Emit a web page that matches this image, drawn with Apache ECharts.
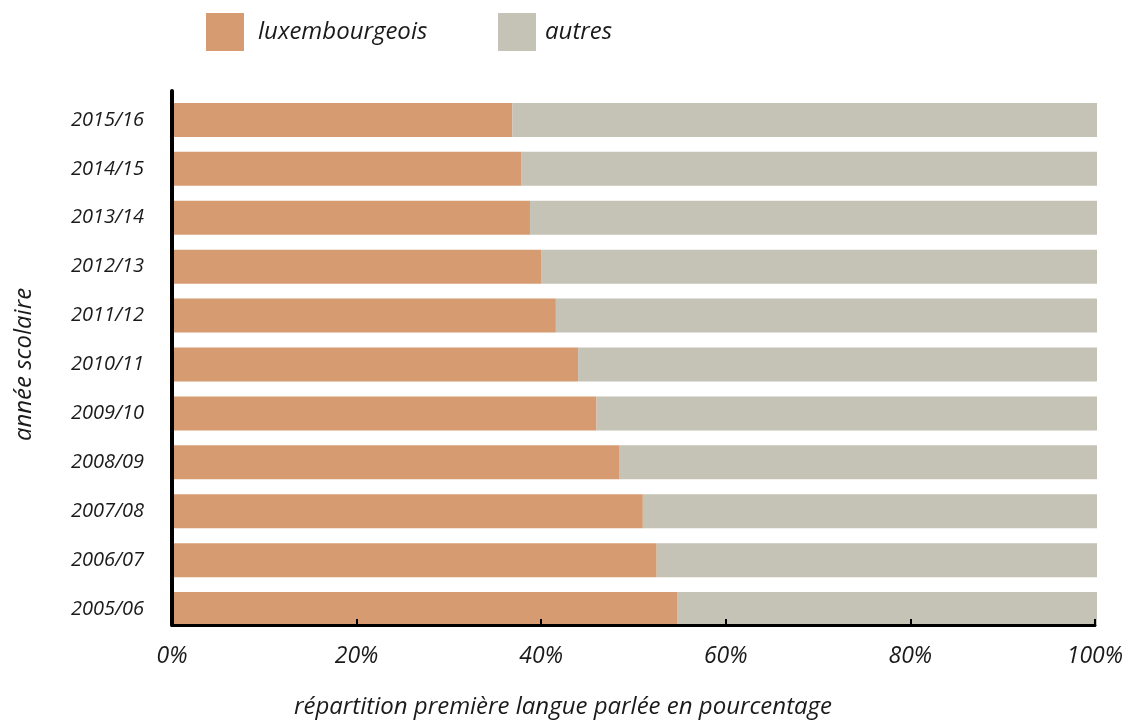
<!DOCTYPE html>
<html>
<head>
<meta charset="utf-8">
<script src="https://cdn.jsdelivr.net/npm/echarts@6/dist/echarts.min.js"></script>
<style>
  html, body { margin: 0; padding: 0; background: #fff; }
  #main { width: 1126px; height: 722px; }
</style>
</head>
<body>
<div id="main"></div>
<script>
// années scolaires, de bas en haut
var annees = ['2005/06', '2006/07', '2007/08', '2008/09', '2009/10', '2010/11',
  '2011/12', '2012/13', '2013/14', '2014/15', '2015/16']
// part en %
var luxembourgeois = [54.6, 52.4, 50.9, 48.4, 45.9, 43.9, 41.5, 39.9, 38.7, 37.8, 36.8]
var autres = [45.4, 47.6, 49.1, 51.6, 54.1, 56.1, 58.5, 60.1, 61.3, 62.2, 63.2]
var ticksX = [0, 20, 40, 60, 80, 100]

var police = '"Open Sans", "DejaVu Sans", sans-serif'
var orange = '#d69b70'
var gris = '#c5c2b6'
var encre = '#1a1a1a'

var chart = echarts.init(document.getElementById('main'))
chart.setOption({
  animation: false,
  textStyle: { fontFamily: police, fontStyle: 'italic', color: encre },
  title: {
    text: 'répartition première langue parlée en pourcentage',
    left: 'center', top: 695, padding: 0,
    textStyle: { fontSize: 24, fontStyle: 'italic', fontWeight: 'normal', fontFamily: police, color: encre }
  },
  legend: [
    {
      left: 206, top: 13, padding: 0,
      data: ['luxembourgeois'],
      itemWidth: 38, itemHeight: 38,
      icon: 'rect',
      textStyle: { fontSize: 24, fontStyle: 'italic', fontFamily: police, color: encre, padding: [0, 0, 12, 9] }
    },
    {
      left: 498, top: 13, padding: 0,
      data: ['autres'],
      itemWidth: 38, itemHeight: 38,
      icon: 'rect',
      textStyle: { fontSize: 24, fontStyle: 'italic', fontFamily: police, color: encre, padding: [0, 0, 12, 4] }
    }
  ],
  grid: [
    // grille des barres
    { left: 172, right: 29, top: 95.5, height: 538 },
    // grille des axes
    { left: 172, right: 29, top: 91, bottom: 97 }
  ],
  xAxis: [
    {
      gridIndex: 0, type: 'value', min: 0, max: 100,
      axisLine: { show: false }, axisTick: { show: false },
      axisLabel: { show: false }, splitLine: { show: false }
    },
    {
      gridIndex: 1, type: 'value', min: 0, max: 100, interval: 20,
      z: 10,
      axisLine: { show: true, lineStyle: { color: '#000', width: 3 } },
      axisTick: { show: true, inside: true, length: 6, lineStyle: { color: '#000', width: 2 } },
      axisLabel: {
        margin: 20, fontSize: 23, fontStyle: 'italic', fontFamily: police, color: encre,
        formatter: function (v) { return ticksX.indexOf(v) >= 0 ? v + '%' : '' }
      },
      splitLine: { show: false }
    }
  ],
  yAxis: [
    {
      gridIndex: 0, type: 'category', data: annees,
      axisLine: { show: false }, axisTick: { show: false },
      axisLabel: { margin: 28, fontSize: 20, fontStyle: 'italic', fontFamily: police, color: encre },
      name: 'année scolaire',
      nameLocation: 'middle', nameGap: 136, nameRotate: 90,
      nameTextStyle: { fontSize: 24, fontStyle: 'italic', fontFamily: police, color: encre }
    },
    {
      gridIndex: 1, type: 'value', min: 0, max: 1,
      z: 10,
      axisLine: { show: true, lineStyle: { color: '#000', width: 4 } },
      axisTick: { show: false }, axisLabel: { show: false }, splitLine: { show: false }
    }
  ],
  series: [
    {
      name: 'luxembourgeois', type: 'bar', stack: 'total',
      xAxisIndex: 0, yAxisIndex: 0,
      barWidth: 34,
      itemStyle: { color: orange },
      data: luxembourgeois
    },
    {
      name: 'autres', type: 'bar', stack: 'total',
      xAxisIndex: 0, yAxisIndex: 0,
      barWidth: 34,
      itemStyle: { color: gris },
      data: autres
    }
  ]
})
</script>
</body>
</html>
